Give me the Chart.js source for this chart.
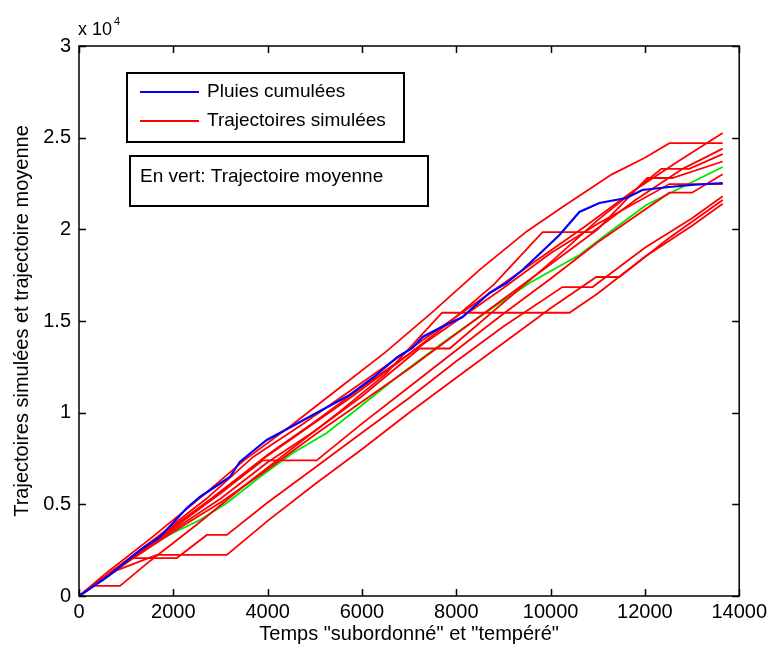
<!DOCTYPE html>
<html><head><meta charset="utf-8">
<script src="https://cdn.jsdelivr.net/npm/chart.js@4/dist/chart.umd.min.js"></script>
<style>html,body{margin:0;padding:0;background:#fff}</style>
</head><body>
<canvas id="c" width="771" height="653"></canvas>
<script>
// Pluies cumulées (blue)
const pluiesX = [0,593,1356,1716,2287,2563,3198,3410,3664,3982,4532,4956,5740,6227,6756,7074,7286,7688,8133,8345,8705,9065,9404,9764,10188,10611,11035,11607,11946,12517,12983,13650];
const pluiesY = [0,1036,2618,3218,4800,5400,6491,7309,7855,8509,9273,9873,10964,11891,13037,13528,14128,14673,15218,15709,16527,17073,17782,18655,19691,20945,21436,21709,22145,22309,22418,22527];
// Trajectoire moyenne (green)
const moyenneX = [0,805,1356,1991,2563,3135,3834,4532,5253,5952,6799,7794,8705,9552,10611,11310,12030,12877,13650];
const moyenneY = [0,1418,2509,3437,4146,5073,6491,7800,8891,10310,12055,13964,15600,17073,18600,19964,21327,22418,23400];
// Trajectoires simulées (red), [x, y]
const traj1 = [[0,0],[600,1300],[1500,3100],[2500,5200],[3500,7400],[4500,9300],[5500,11300],[6500,13300],[7500,15500],[8500,17800],[9500,19900],[10300,21300],[11300,23000],[12000,23900],[12520,24700],[13650,24700]];
const traj2 = [[0,0],[700,1350],[1700,3300],[2700,5300],[3700,7600],[4700,9300],[5700,11100],[6700,12900],[7700,14700],[8700,16500],[9700,18300],[10700,20100],[11700,22000],[12700,23700],[13650,25250]];
const traj3 = [[0,0],[800,1500],[1800,3400],[2800,5300],[3800,7300],[4800,9100],[5800,10900],[6800,12800],[7800,14800],[8800,17000],[9830,19850],[10890,19850],[11800,21600],[12800,23300],[13650,24400]];
const traj4 = [[0,0],[900,1700],[2000,3600],[3000,5300],[4000,7300],[5000,9000],[6000,10900],[7220,13500],[7860,13500],[9000,16000],[10000,18200],[11000,20500],[12350,23300],[12940,23300],[13650,24100]];
const traj5 = [[0,0],[1000,1800],[2000,3500],[3000,5100],[4000,6900],[5000,8800],[6000,10600],[7000,12400],[8000,14300],[9000,16200],[10000,18100],[11000,20000],[12050,22800],[12580,22800],[13650,23700]];
const traj6 = [[0,0],[1000,1900],[2000,3700],[3000,5600],[4000,7700],[5000,9500],[6000,11400],[7000,13200],[8000,15000],[9000,16800],[10000,18700],[11000,20300],[12520,22470],[13650,22470]];
const traj7 = [[0,0],[1000,1900],[2000,3800],[3000,5600],[3900,7400],[5040,7400],[6000,9400],[7000,11400],[8000,13400],[9000,15400],[10000,17300],[11000,19300],[12520,22000],[13000,22000],[13650,23000]];
const traj8 = [[0,0],[600,1100],[1080,2070],[2075,2070],[2710,3330],[3135,3330],[4000,5100],[5000,7000],[6000,8900],[7000,10800],[8000,12800],[9000,14700],[10250,16850],[10890,16850],[12000,19000],[13000,20600],[13650,21800]];
const traj9 = [[0,0],[300,550],[870,550],[1500,1900],[2500,3900],[3500,6000],[4500,8000],[5500,10000],[6500,12100],[7700,15450],[10400,15450],[11000,16500],[12000,18500],[13000,20200],[13650,21400]];
const traj10 = [[0,0],[800,1400],[1650,2240],[3135,2240],[4000,4100],[5000,6100],[6000,8000],[7000,10000],[8000,11900],[9000,13800],[10000,15700],[10970,17400],[11460,17400],[12500,19500],[13650,21600]];
const trajectoires = [traj1,traj2,traj3,traj4,traj5,traj6,traj7,traj8,traj9,traj10];

const legendLabels = ['Pluies cumulées','Trajectoires simulées'];
const noteLabel = 'En vert: Trajectoire moyenne';
const xTitle = 'Temps "subordonné" et "tempéré"';
const yTitle = 'Trajectoires simulées et trajectoire moyenne';

const FONT = '"Liberation Sans", Arial, Helvetica, sans-serif';
const toXY = (xs, ys) => xs.map((x, i) => ({x, y: ys[i]}));

const datasets = [];
datasets.push({label: legendLabels[0], data: toXY(pluiesX, pluiesY), borderColor: '#0000ff', borderWidth: 2.2});
trajectoires.forEach((t, i) => datasets.push({label: legendLabels[1] + ' ' + (i+1), data: t.map(p => ({x: p[0], y: p[1]})), borderColor: '#ff0000', borderWidth: 1.8}));
datasets.push({label: 'Trajectoire moyenne', data: toXY(moyenneX, moyenneY), borderColor: '#00e600', borderWidth: 1.8});

const framePlugin = {
  id: 'frame',
  afterDraw(chart) {
    const {ctx, chartArea: ca, scales} = chart;
    const xs = scales.x, ys = scales.y;
    ctx.save();
    ctx.strokeStyle = '#000';
    ctx.lineWidth = 1.5;
    ctx.strokeRect(ca.left, ca.top, ca.right - ca.left, ca.bottom - ca.top);
    const tl = 7;
    ctx.beginPath();
    xs.ticks.forEach(t => {
      const px = Math.round(xs.getPixelForValue(t.value)) + 0.5;
      ctx.moveTo(px, ca.bottom); ctx.lineTo(px, ca.bottom - tl);
      ctx.moveTo(px, ca.top); ctx.lineTo(px, ca.top + tl);
    });
    ys.ticks.forEach(t => {
      const py = Math.round(ys.getPixelForValue(t.value)) + 0.5;
      ctx.moveTo(ca.left, py); ctx.lineTo(ca.left + tl, py);
      ctx.moveTo(ca.right, py); ctx.lineTo(ca.right - tl, py);
    });
    ctx.stroke();

    // exponent label
    ctx.fillStyle = '#000';
    ctx.textBaseline = 'alphabetic';
    ctx.textAlign = 'left';
    ctx.font = '18px ' + FONT;
    ctx.fillText('x 10', ca.left - 1, ca.top - 11);
    const w = ctx.measureText('x 10').width;
    ctx.font = '11px ' + FONT;
    ctx.fillText('4', ca.left - 1 + w + 2, ca.top - 21);

    // legend box
    const bx = ca.left + 48, by = ca.top + 27, bw = 277, bh = 69;
    ctx.fillStyle = '#fff';
    ctx.fillRect(bx, by, bw, bh);
    ctx.lineWidth = 2;
    ctx.strokeRect(bx, by, bw, bh);
    ctx.lineWidth = 2;
    ctx.strokeStyle = '#0000ff';
    ctx.beginPath(); ctx.moveTo(bx + 13, by + 19); ctx.lineTo(bx + 72, by + 19); ctx.stroke();
    ctx.strokeStyle = '#ff0000';
    ctx.beginPath(); ctx.moveTo(bx + 13, by + 48); ctx.lineTo(bx + 72, by + 48); ctx.stroke();
    ctx.fillStyle = '#000';
    ctx.font = '19px ' + FONT;
    ctx.textBaseline = 'middle';
    ctx.fillText(legendLabels[0], bx + 80, by + 19);
    ctx.fillText(legendLabels[1], bx + 80, by + 48);

    // note box
    const nx = ca.left + 51, ny = ca.top + 110, nw = 298, nh = 50;
    ctx.fillStyle = '#fff';
    ctx.fillRect(nx, ny, nw, nh);
    ctx.strokeStyle = '#000';
    ctx.strokeRect(nx, ny, nw, nh);
    ctx.fillStyle = '#000';
    ctx.fillText(noteLabel, nx + 10, ny + 21);
    ctx.restore();
  }
};

new Chart(document.getElementById('c'), {
  type: 'line',
  data: {datasets},
  options: {
    responsive: false,
    devicePixelRatio: 1,
    animation: false,
    layout: {padding: {left: 0, right: 31, top: 46, bottom: 0}},
    elements: {point: {radius: 0}, line: {tension: 0}},
    plugins: {legend: {display: false}, tooltip: {enabled: false}},
    scales: {
      x: {
        type: 'linear', min: 0, max: 14000,
        grid: {display: false, drawTicks: false},
        border: {display: false},
        ticks: {stepSize: 2000, color: '#000', font: {family: FONT, size: 20}, padding: 4, maxRotation: 0,
          callback: v => String(v)},
        title: {display: true, text: xTitle, color: '#000', font: {family: FONT, size: 20}, padding: {top: 0, bottom: 7}},
        afterFit(s) { s.height = 57; }
      },
      y: {
        type: 'linear', min: 0, max: 30000,
        grid: {display: false, drawTicks: false},
        border: {display: false},
        ticks: {stepSize: 5000, color: '#000', font: {family: FONT, size: 20}, padding: 8,
          callback: v => String(v / 10000)},
        title: {display: true, text: yTitle, color: '#000', font: {family: FONT, size: 20}, padding: {top: 10, bottom: 0}},
        afterFit(s) { s.width = 79; }
      }
    }
  },
  plugins: [framePlugin]
});
</script>
</body></html>
